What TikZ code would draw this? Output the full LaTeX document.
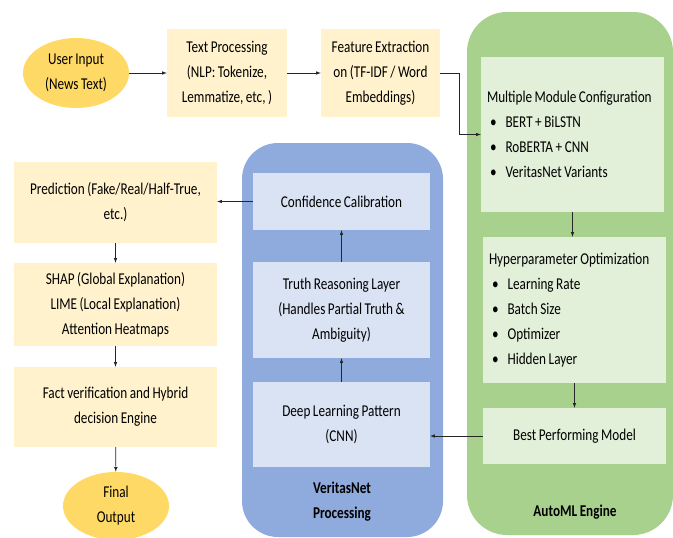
\documentclass[tikz,border=0pt]{standalone}
\usepackage{fontspec}
\setmainfont[FakeStretch=0.8,WordSpace=0.85]{Carlito}
\usepackage{tikz}
\usetikzlibrary{shapes.geometric}

\definecolor{goldfill}{HTML}{FFD966}
\definecolor{creamfill}{HTML}{FFF2CC}
\definecolor{greenbg}{HTML}{A9D18E}
\definecolor{greenbox}{HTML}{E2F0D9}
\definecolor{bluebg}{HTML}{8FAADC}
\definecolor{bluebox}{HTML}{DAE3F3}

\tikzset{
  every node/.style={font=\fontsize{16.5}{25}\selectfont, inner sep=0pt},
  terminal/.style={ellipse, fill=goldfill, minimum width=106pt, minimum height=70pt, align=center},
  stagebox/.style={rectangle, fill=creamfill, align=center},
  autobox/.style={rectangle, fill=greenbox, align=flush left, text width=171pt},
  netbox/.style={rectangle, fill=bluebox, align=center, minimum width=177pt},
  panel/.style={rectangle, rounded corners=40pt},
  arr/.style={-latex, draw=black!85, line width=0.6pt}
}

\newcommand{\bulletline}[1]{\hspace*{3pt}\textbullet\hspace{9pt}#1}

\begin{document}
\begin{tikzpicture}[x=1pt,y=-1pt]

\useasboundingbox (0,0) rectangle (673,538);

% background panels
\node [panel, fill=greenbg, minimum width=206pt, minimum height=523pt] (automl) at (570,273.5) {};
\node [panel, fill=bluebg, rounded corners=36pt, minimum width=201pt, minimum height=394pt] (veritas) at (342.5,340) {};

% input and preprocessing
\node [terminal] (input) at (76,73) {User Input\\(News Text)};
\node [stagebox, minimum width=120pt, minimum height=88pt] (textproc) at (227,73) {Text Processing\\(NLP: Tokenize,\\Lemmatize, etc, )};
\node [stagebox, minimum width=119pt, minimum height=88pt] (feature) at (380.5,73) {Feature Extraction\\on (TF-IDF / Word\\Embeddings)};

% AutoML engine
\node [autobox, minimum width=183pt, minimum height=155pt] (modules) at (572.5,134.5) {Multiple Module Configuration\\
  \bulletline{BERT + BiLSTN}\\
  \bulletline{RoBERTA + CNN}\\
  \bulletline{VeritasNet Variants}};
\node [autobox, minimum width=183pt, minimum height=146pt] (hyper) at (574.5,310) {Hyperparameter Optimization\\
  \bulletline{Learning Rate}\\
  \bulletline{Batch Size}\\
  \bulletline{Optimizer}\\
  \bulletline{Hidden Layer}};
\node [autobox, align=flush center, minimum width=183pt, minimum height=56pt] (best) at (574.5,436) {Best Performing Model};
\node [font=\fontsize{16.5}{25}\selectfont\bfseries] (automllabel) at (575,512) {AutoML Engine};

% VeritasNet processing
\node [netbox, minimum height=57pt] (confidence) at (341.5,201.5) {Confidence Calibration};
\node [netbox, minimum height=96pt] (truth) at (341.5,310) {Truth Reasoning Layer\\(Handles Partial Truth \&\\Ambiguity)};
\node [netbox, minimum height=85pt] (deep) at (341.5,424.5) {Deep Learning Pattern\\(CNN)};
\node [font=\fontsize{16.5}{25}\selectfont\bfseries, align=center] (veritaslabel) at (342,502) {VeritasNet\\Processing};

% output side
\node [stagebox, minimum width=203pt, minimum height=81pt] (prediction) at (115.5,202.5) {Prediction (Fake/Real/Half-True,\\etc.)};
\node [stagebox, minimum width=203pt, minimum height=83pt] (explain) at (115.5,304.5) {SHAP (Global Explanation)\\LIME (Local Explanation)\\Attention Heatmaps};
\node [stagebox, minimum width=203pt, minimum height=80pt] (fact) at (115.5,407) {Fact verification and Hybrid\\decision Engine};
\node [terminal, minimum height=68pt] (final) at (116,506) {Final\\Output};

% connectors
\draw [arr] (input) -- (textproc);
\draw [arr] (textproc) -- (feature);
\draw [arr] (feature.east) -- ++(19,0) |- (modules.west);
\draw [arr] (modules.south) -- (modules.south |- hyper.north);
\draw [arr] (hyper.south) -- (best.north);
\draw [arr] (best.west) -- (best.west -| deep.east);
\draw [arr] (deep) -- (truth);
\draw [arr] (truth) -- (confidence);
\draw [arr] (confidence.west) -- (confidence.west -| prediction.east);
\draw [arr] (prediction) -- (explain);
\draw [arr] (explain) -- (fact);
\draw [arr] (fact) -- (final);

\end{tikzpicture}
\end{document}
